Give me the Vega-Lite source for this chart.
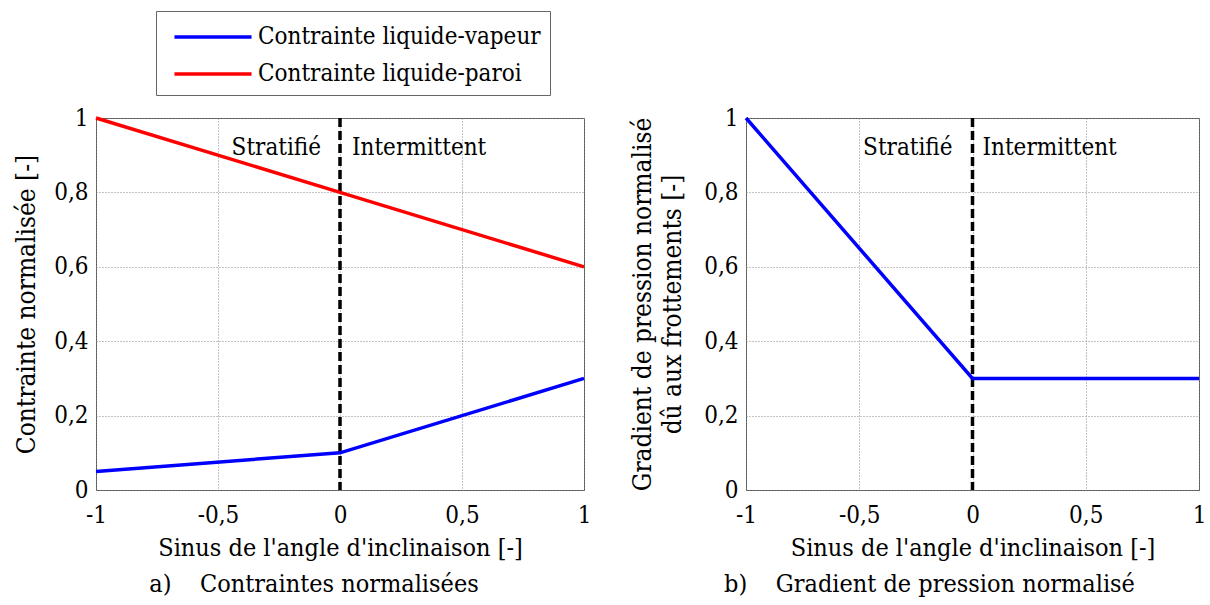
{
  "$schema": "https://vega.github.io/schema/vega-lite/v6.json",
  "background": "white",
  "padding": {"left": 13, "top": 10, "right": 5, "bottom": 5},
  "bounds": "flush",
  "spacing": 162,
  "datasets": {
    "contraintes": [
      {"sinus": -1, "valeur": 0.05, "serie": "Contrainte liquide-vapeur"},
      {"sinus": 0, "valeur": 0.1, "serie": "Contrainte liquide-vapeur"},
      {"sinus": 1, "valeur": 0.3, "serie": "Contrainte liquide-vapeur"},
      {"sinus": -1, "valeur": 1, "serie": "Contrainte liquide-paroi"},
      {"sinus": 0, "valeur": 0.8, "serie": "Contrainte liquide-paroi"},
      {"sinus": 1, "valeur": 0.6, "serie": "Contrainte liquide-paroi"}
    ],
    "gradient": [
      {"sinus": -1, "valeur": 1},
      {"sinus": 0, "valeur": 0.3},
      {"sinus": 1, "valeur": 0.3}
    ],
    "frontiere": [{"sinus": 0}],
    "regimes": [
      {"sinus": 0, "valeur": 0.9, "regime": "Stratifié"},
      {"sinus": 0, "valeur": 0.9, "regime": "Intermittent"}
    ]
  },
  "config": {
    "font": "DejaVu Serif Condensed",
    "view": {"stroke": "#555", "strokeWidth": 1},
    "axis": {
      "domain": false, "ticks": false, "grid": true, "gridColor": "#888", "gridDash": [1, 2], "gridWidth": 1,
      "labelFont": "DejaVu Serif Condensed", "labelFontSize": 24, "labelColor": "black",
      "titleFont": "DejaVu Serif Condensed", "titleFontWeight": "normal", "titleColor": "black"
    },
    "axisX": {"labelPadding": 13, "titleFontSize": 25, "titlePadding": 8, "labelFlush": false},
    "axisY": {"labelPadding": 8, "titleFontSize": 26},
    "legend": {"labelFont": "DejaVu Serif Condensed"},
    "title": {"font": "DejaVu Serif Condensed"},
    "text": {"font": "DejaVu Serif Condensed"}
  },
  "resolve": {"legend": {"color": "independent"}, "scale": {"color": "independent"}},
  "hconcat": [
    {
      "width": 488,
      "height": 372,
      "title": {"text": "a)\u00a0\u00a0\u00a0 Contraintes normalisées", "orient": "bottom", "anchor": "middle", "frame": "group", "dx": -26, "fontSize": 25, "fontWeight": "normal", "color": "black", "offset": 12},
      "encoding": {
        "x": {"field": "sinus", "type": "quantitative", "scale": {"domain": [-1, 1], "nice": false},
          "axis": {"title": "Sinus de l'angle d'inclinaison [-]", "values": [-1, -0.5, 0, 0.5, 1],
            "labelExpr": "datum.value < 0 ? '-' + replace(toString(-datum.value), '.', ',') : replace(toString(datum.value), '.', ',')"}}
      },
      "layer": [
        {
          "data": {"name": "frontiere"},
          "mark": {"type": "rule", "color": "black", "strokeWidth": 3.5, "strokeDash": [9, 4]},
          "encoding": {}
        },
        {
          "data": {"name": "contraintes"},
          "mark": {"type": "line", "strokeWidth": 3.5},
          "encoding": {
            "y": {"field": "valeur", "type": "quantitative", "scale": {"domain": [0, 1], "nice": false},
              "axis": {"title": "Contrainte normalisée [-]", "titlePadding": 14, "values": [0, 0.2, 0.4, 0.6, 0.8, 1],
                "labelExpr": "replace(toString(datum.value), '.', ',')"}},
            "color": {"field": "serie", "type": "nominal",
              "scale": {"domain": ["Contrainte liquide-vapeur", "Contrainte liquide-paroi"], "range": ["#0000ff", "#ff0000"]},
              "legend": {"orient": "none", "legendX": 60, "legendY": -107, "title": null, "symbolType": "M-2.57,0H2.57", "symbolSize": 900, "symbolStrokeWidth": 3.5,
                "symbolOffset": 31, "labelOffset": 28,
                "labelFontSize": 24, "labelColor": "black", "strokeColor": "#666", "fillColor": "white",
                "padding": 9, "rowPadding": 8, "labelLimit": 0}}
          }
        },
        {
          "data": {"name": "regimes"},
          "transform": [{"filter": "datum.regime == 'Stratifié'"}],
          "mark": {"type": "text", "align": "right", "baseline": "alphabetic", "dx": -19, "fontSize": 24, "color": "black"},
          "encoding": {
            "y": {"field": "valeur", "type": "quantitative", "title": "Contrainte normalisée [-]"},
            "text": {"field": "regime"}
          }
        },
        {
          "data": {"name": "regimes"},
          "transform": [{"filter": "datum.regime == 'Intermittent'"}],
          "mark": {"type": "text", "align": "left", "baseline": "alphabetic", "dx": 12, "fontSize": 24, "color": "black"},
          "encoding": {
            "y": {"field": "valeur", "type": "quantitative", "title": "Contrainte normalisée [-]"},
            "text": {"field": "regime"}
          }
        }
      ]
    },
    {
      "width": 453,
      "height": 372,
      "title": {"text": "b)\u00a0\u00a0\u00a0 Gradient de pression normalisé", "orient": "bottom", "anchor": "middle", "frame": "group", "dx": -43, "fontSize": 25, "fontWeight": "normal", "color": "black", "offset": 12},
      "encoding": {
        "x": {"field": "sinus", "type": "quantitative", "scale": {"domain": [-1, 1], "nice": false},
          "axis": {"title": "Sinus de l'angle d'inclinaison [-]", "values": [-1, -0.5, 0, 0.5, 1],
            "labelExpr": "datum.value < 0 ? '-' + replace(toString(-datum.value), '.', ',') : replace(toString(datum.value), '.', ',')"}}
      },
      "layer": [
        {
          "data": {"name": "frontiere"},
          "mark": {"type": "rule", "color": "black", "strokeWidth": 3.5, "strokeDash": [9, 4]},
          "encoding": {}
        },
        {
          "data": {"name": "gradient"},
          "mark": {"type": "line", "strokeWidth": 3.5, "color": "#0000ff"},
          "encoding": {
            "y": {"field": "valeur", "type": "quantitative", "scale": {"domain": [0, 1], "nice": false},
              "axis": {"title": ["Gradient de pression normalisé", "dû aux frottements [-]"], "titlePadding": 18, "titleLineHeight": 30, "values": [0, 0.2, 0.4, 0.6, 0.8, 1],
                "labelExpr": "replace(toString(datum.value), '.', ',')"}}
          }
        },
        {
          "data": {"name": "regimes"},
          "transform": [{"filter": "datum.regime == 'Stratifié'"}],
          "mark": {"type": "text", "align": "right", "baseline": "alphabetic", "dx": -20, "fontSize": 24, "color": "black"},
          "encoding": {
            "y": {"field": "valeur", "type": "quantitative", "title": ["Gradient de pression normalisé", "dû aux frottements [-]"]},
            "text": {"field": "regime"}
          }
        },
        {
          "data": {"name": "regimes"},
          "transform": [{"filter": "datum.regime == 'Intermittent'"}],
          "mark": {"type": "text", "align": "left", "baseline": "alphabetic", "dx": 10, "fontSize": 24, "color": "black"},
          "encoding": {
            "y": {"field": "valeur", "type": "quantitative", "title": ["Gradient de pression normalisé", "dû aux frottements [-]"]},
            "text": {"field": "regime"}
          }
        }
      ]
    }
  ]
}
